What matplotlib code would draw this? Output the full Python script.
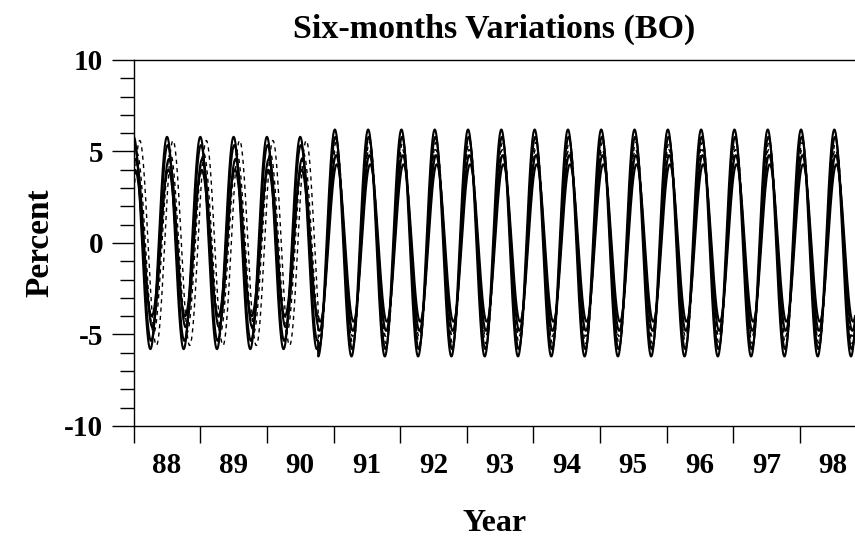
import numpy as np
import matplotlib.pyplot as plt

""" DONNÉES (lues sur la figure) """
annees   = ['88', '89', '90', '91', '92', '93', '94', '95', '96', '97', '98']
debut    = 1988.0
fin      = 1998.83
rupture  = 1990.77                   # changement de régime des courbes

# amplitude (%) et date du maximum (fraction d'année) pour chaque courbe
amp_1    = [5.8, 5.35, 4.0, 4.6, 5.6, 4.9]      # avant la rupture
phase_1  = [0.00, 0.01, 0.02, 0.03, 0.09, 0.05]
amp_2    = [6.2, 5.8, 4.3, 4.8, 5.5, 5.1]       # après la rupture
phase_2  = [0.02, 0.03, 0.05, 0.04, 0.04, 0.035]
styles   = ['-', '-', '-', '-', '--', '--']

periode  = 0.5                       # six mois

plt.rcParams['font.family'] = 'Liberation Serif'
plt.rcParams['font.weight'] = 'bold'

fig = plt.figure(figsize=(8.55, 5.38), dpi=100)
ax  = fig.add_axes([0.1564, 0.2082, 1.0 - 0.1564, 0.8885 - 0.2082])

t = np.linspace(debut, fin, 4000)
for a1, p1, a2, p2, ls in zip(amp_1, phase_1, amp_2, phase_2, styles):
    s = np.where(t < rupture,
                 a1 * np.cos(2 * np.pi * (t - debut - p1) / periode),
                 a2 * np.cos(2 * np.pi * (t - debut - p2) / periode))
    if ls == '--':
        ax.plot(t, s, color='black', lw=1.0, ls=(0, (3, 3)))
    else:
        ax.plot(t, s, color='black', lw=1.5)

""" AXES """
ax.set_xlim(debut, fin)
ax.set_ylim(-10, 10)
ax.spines['right'].set_visible(False)
for sp in ['left', 'bottom', 'top']:
    ax.spines[sp].set_linewidth(1.0)

ax.set_xticks(np.arange(1988, 1999))
ax.set_xticklabels([])
ax.set_xticks(np.arange(1988.5, 1999), minor=True)
ax.set_xticklabels(annees, minor=True, fontsize=21, fontweight='bold')
ax.tick_params(axis='x', which='major', direction='out', length=12, width=1)
ax.tick_params(axis='x', which='minor', length=0, pad=19)

ax.set_yticks([-10, -5, 0, 5, 10])
ax.set_yticks(np.arange(-10, 11, 1), minor=True)
ax.set_yticklabels(['-10', '-5', '0', '5', '10'], fontsize=21, fontweight='bold')
ax.tick_params(axis='y', which='major', direction='out', length=16, width=1, pad=6)
ax.tick_params(axis='y', which='minor', direction='out', length=10, width=1)

ax.set_title('Six-months Variations (BO)', fontsize=24.5, fontweight='bold', pad=16)
ax.set_xlabel('Year', fontsize=23, fontweight='bold', labelpad=21)
ax.set_ylabel('Percent', fontsize=24, fontweight='bold', labelpad=6)

plt.savefig('out.png', dpi=100)
